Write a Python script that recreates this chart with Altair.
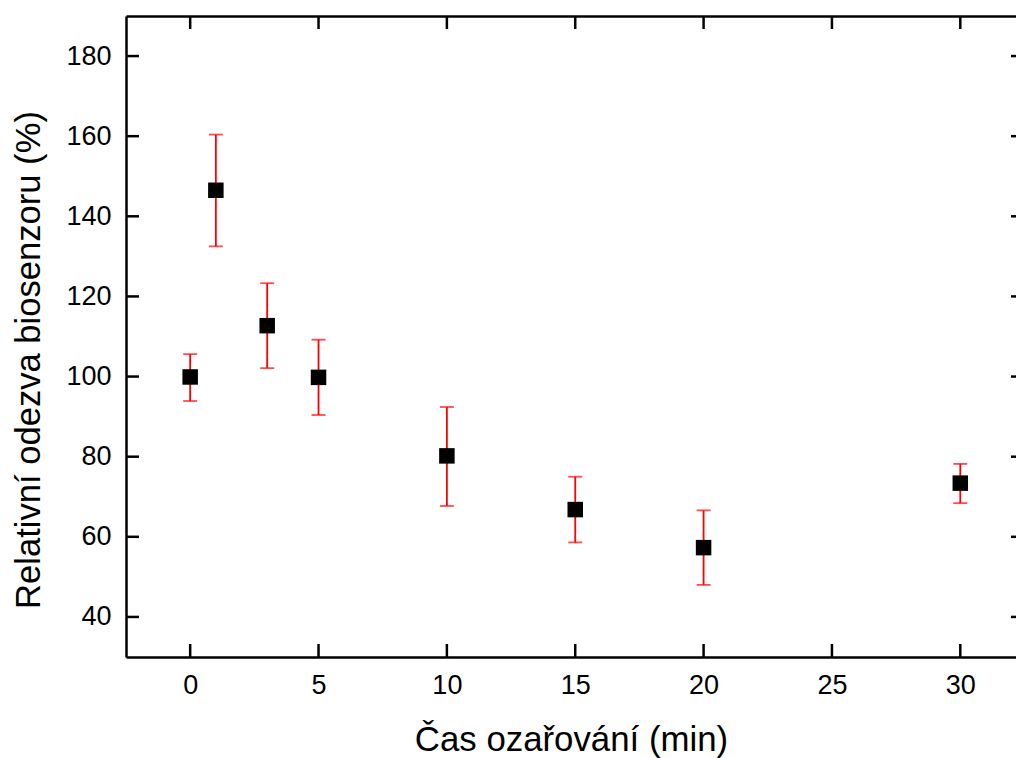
import altair as alt
import pandas as pd

# Data
time_min = [0, 1, 3, 5, 10, 15, 20, 30]
response = [99.9, 146.5, 112.7, 99.8, 80.2, 66.8, 57.3, 73.4]
err_low = [93.9, 132.5, 102.1, 90.4, 67.7, 58.6, 48.0, 68.4]
err_high = [105.6, 160.4, 123.3, 109.2, 92.4, 75.0, 66.6, 78.2]

x_ticks = [0, 5, 10, 15, 20, 25, 30]
y_ticks = [40, 60, 80, 100, 120, 140, 160, 180]

df = pd.DataFrame({"t": time_min, "r": response, "lo": err_low, "hi": err_high})
xt = pd.DataFrame({"v": x_ticks})
yt = pd.DataFrame({"v": y_ticks})

W, H = 890, 641
TICK = 13
FONT = "Liberation Sans"

xscale = alt.Scale(domain=[-2.5, 32.17], nice=False, zero=False)
yscale = alt.Scale(domain=[30, 190], nice=False, zero=False)

x_axis = alt.Axis(
    orient="bottom", values=x_ticks, ticks=False, tickSize=0, grid=False,
    domainColor="black", domainWidth=2.5,
    labelFont=FONT, labelFontSize=27, labelColor="black", labelPadding=15,
    title="Čas ozařování (min)", titleFont=FONT, titleFontSize=34.8,
    titleFontWeight="normal", titleColor="black",
    titleBaseline="alphabetic", titleY=93,
)
y_axis = alt.Axis(
    orient="left", values=y_ticks, ticks=False, tickSize=0, grid=False,
    domainColor="black", domainWidth=2.5,
    labelFont=FONT, labelFontSize=27, labelColor="black", labelPadding=15,
    title="Relativní odezva biosenzoru (%)", titleFont=FONT, titleFontSize=34.6,
    titleFontWeight="normal", titleColor="black", titleAngle=270,
    titleAlign="center", titleBaseline="alphabetic", titleX=-87, titleY=343.5,
)
top_axis = alt.Axis(
    orient="top", values=x_ticks, ticks=False, labels=False, grid=False,
    domainColor="black", domainWidth=2.5, title=None,
)

bars = alt.Chart(df).mark_rule(color="#ff0000", strokeWidth=1.8).encode(
    x=alt.X("t:Q", scale=xscale, axis=None),
    y=alt.Y("lo:Q", scale=yscale, axis=None),
    y2="hi:Q",
)
cap_lo = alt.Chart(df).mark_tick(color="#ff0000", orient="horizontal", size=14, thickness=1.8).encode(
    x=alt.X("t:Q", scale=xscale, axis=None),
    y=alt.Y("lo:Q", scale=yscale, axis=None),
)
cap_hi = alt.Chart(df).mark_tick(color="#ff0000", orient="horizontal", size=14, thickness=1.8).encode(
    x=alt.X("t:Q", scale=xscale, axis=None),
    y=alt.Y("hi:Q", scale=yscale, axis=None),
)
points = alt.Chart(df).mark_square(color="black", size=240, opacity=1, filled=True).encode(
    x=alt.X("t:Q", scale=xscale, axis=x_axis),
    y=alt.Y("r:Q", scale=yscale, axis=y_axis),
)

bottom_ticks = alt.Chart(xt).mark_rule(color="black", strokeWidth=2.5).encode(
    x=alt.X("v:Q", scale=xscale, axis=None),
    y=alt.value(H), y2=alt.value(H - TICK),
)
top_ticks = alt.Chart(xt).mark_rule(color="black", strokeWidth=2.5).encode(
    x=alt.X("v:Q", scale=xscale, axis=top_axis),
    y=alt.value(0), y2=alt.value(TICK),
)
left_ticks = alt.Chart(yt).mark_rule(color="black", strokeWidth=2.5).encode(
    y=alt.Y("v:Q", scale=yscale, axis=None),
    x=alt.value(0), x2=alt.value(TICK),
)
right_ticks = alt.Chart(yt).mark_rule(color="black", strokeWidth=2.5).encode(
    y=alt.Y("v:Q", scale=yscale, axis=None),
    x=alt.value(W + 8), x2=alt.value(W + 8 - TICK),
)

chart = alt.layer(
    bars, cap_lo, cap_hi, points, bottom_ticks, top_ticks, left_ticks, right_ticks
).resolve_axis(x="independent", y="independent").properties(
    width=W, height=H,
    autosize=alt.AutoSizeParams(type="none"),
    padding={"left": 126, "top": 16, "right": 0, "bottom": 101},
).configure_view(stroke=None).configure(background="white")

chart.save("out.html", embed_options={"renderer": "svg", "actions": False})
